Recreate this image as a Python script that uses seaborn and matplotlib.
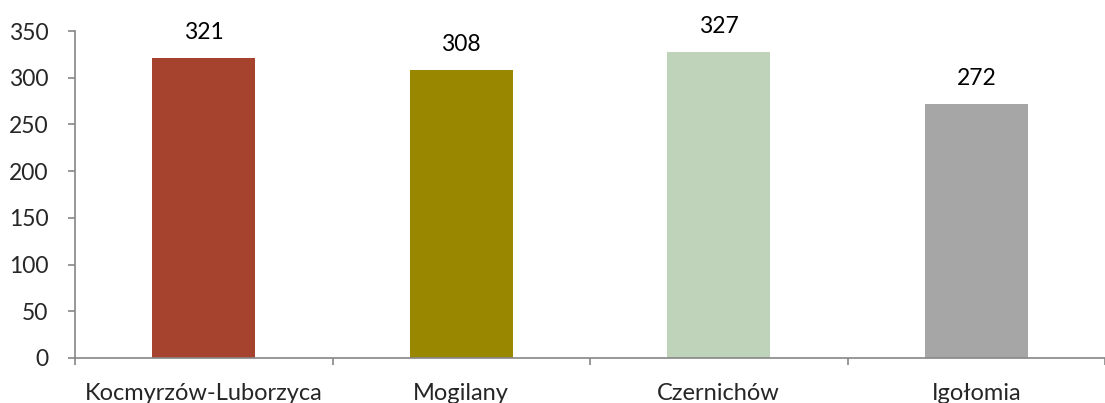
import matplotlib
matplotlib.use("Agg")
import matplotlib.pyplot as plt
import seaborn as sns
import pandas as pd

# Daten
gminy = ["Kocmyrzów-Luborzyca", "Mogilany", "Czernichów", "Igołomia"]
wartosci = [321, 308, 327, 272]
kolory = ["#A5432E", "#9A8700", "#BFD3BB", "#A6A6A6"]
y_ticks = [0, 50, 100, 150, 200, 250, 300, 350]

df = pd.DataFrame({"gmina": gminy, "wartosc": wartosci})

sns.set_style("white")
plt.rcParams["font.family"] = ["Lato", "DejaVu Sans"]

fig = plt.figure(figsize=(11.05, 4.03), dpi=100)
ax = fig.add_axes([75 / 1105, 45 / 403, 1030 / 1105, 327 / 403])

sns.barplot(data=df, x="gmina", y="wartosc", hue="gmina", palette=kolory,
            width=0.4, legend=False, saturation=1, linewidth=0, ax=ax)

for c in ax.containers:
    ax.bar_label(c, padding=11, fontsize=16.5, color="#000000")

ax.set_ylim(0, 350)
ax.set_yticks(y_ticks)
ax.set_xlim(-0.5, len(gminy) - 0.5)
ax.set_xlabel("")
ax.set_ylabel("")

# osie
for s in ["top", "right"]:
    ax.spines[s].set_visible(False)
for s in ["left", "bottom"]:
    ax.spines[s].set_color("#868686")
    ax.spines[s].set_linewidth(1.2)

ax.tick_params(axis="y", which="major", length=5, width=1.2, color="#868686",
               labelsize=16.5, pad=14, left=True)
ax.tick_params(axis="x", which="major", length=0, labelsize=17, pad=18)
ax.set_xticks([i + 0.5 for i in range(-1, len(gminy))], minor=True)
ax.tick_params(axis="x", which="minor", length=5, width=1.2, color="#868686",
               bottom=True)

fig.savefig("out.png", dpi=100)
